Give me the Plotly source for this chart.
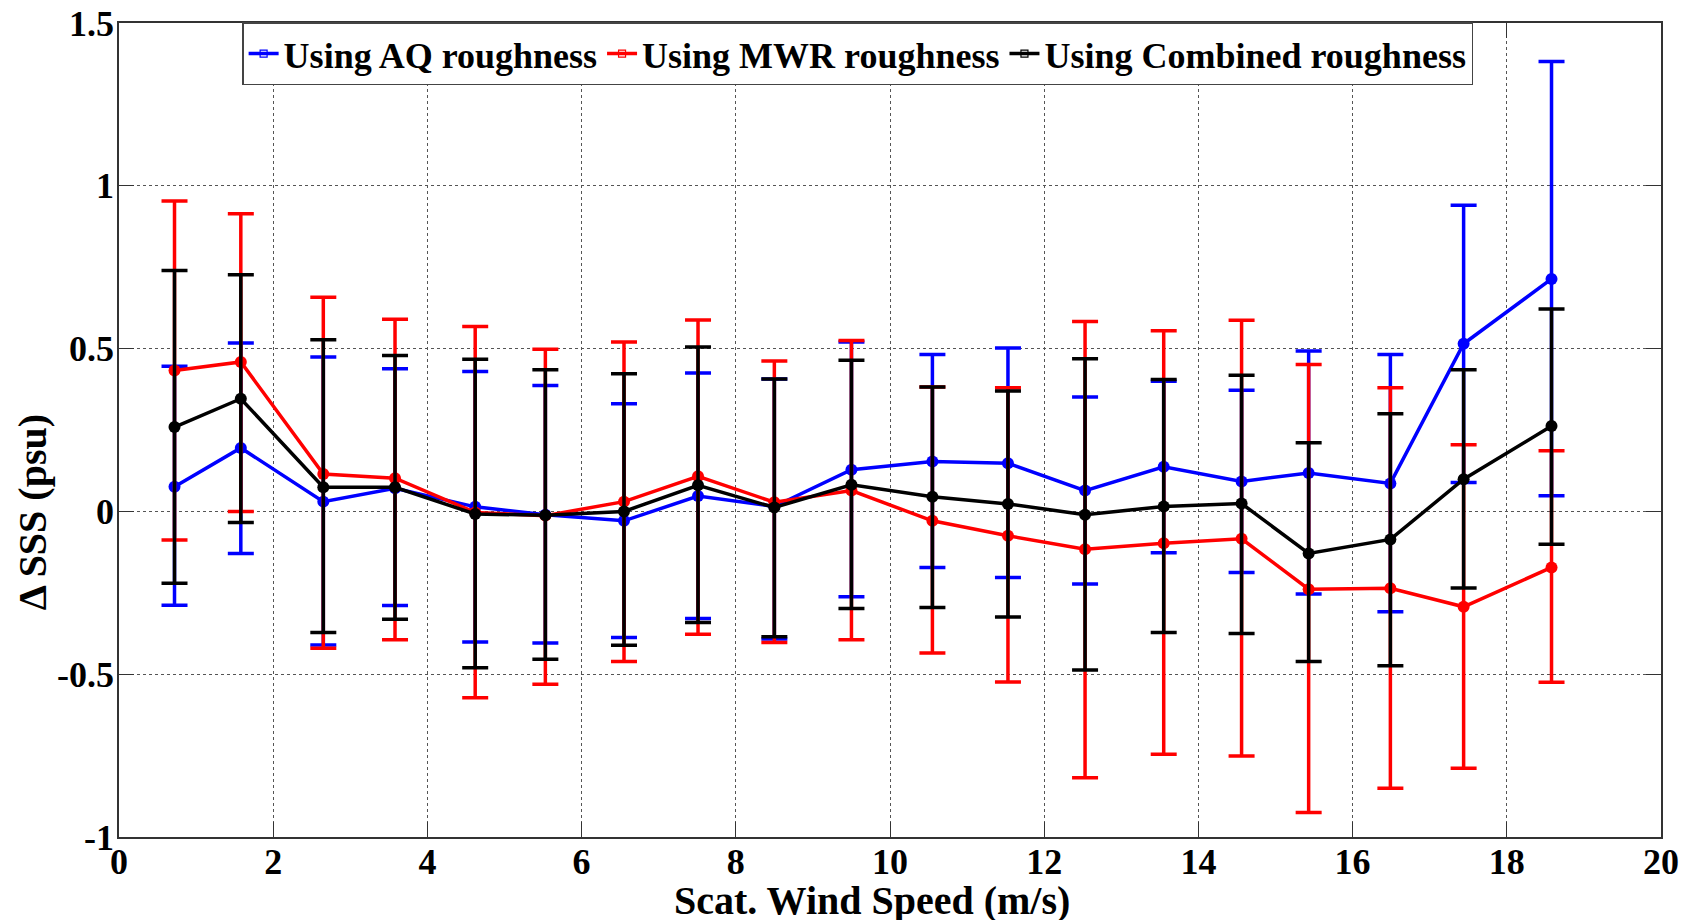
import plotly.graph_objects as go

# Wind speed bins (m/s)
wind_speed = [0.72, 1.58, 2.65, 3.58, 4.62, 5.53, 6.55, 7.51, 8.50, 9.50,
              10.55, 11.53, 12.53, 13.55, 14.56, 15.43, 16.49, 17.44, 18.58]

# Using AQ roughness
aq_mean = [0.076, 0.195, 0.030, 0.071, 0.014, -0.010, -0.029, 0.047, 0.015, 0.128,
           0.153, 0.148, 0.064, 0.137, 0.092, 0.118, 0.086, 0.515, 0.714]
aq_upper = [0.446, 0.517, 0.474, 0.438, 0.430, 0.387, 0.331, 0.425, 0.407, 0.520,
            0.482, 0.502, 0.351, 0.400, 0.372, 0.493, 0.482, 0.940, 1.382]
aq_lower = [-0.288, -0.129, -0.410, -0.289, -0.401, -0.404, -0.387, -0.329, -0.392, -0.262,
            -0.172, -0.203, -0.223, -0.127, -0.188, -0.254, -0.308, 0.089, 0.048]

# Using MWR roughness
mwr_mean = [0.433, 0.459, 0.115, 0.102, -0.003, -0.013, 0.030, 0.108, 0.028, 0.064,
            -0.029, -0.075, -0.116, -0.098, -0.084, -0.239, -0.236, -0.293, -0.172]
mwr_upper = [0.953, 0.914, 0.658, 0.590, 0.568, 0.498, 0.520, 0.588, 0.462, 0.525,
             0.382, 0.380, 0.583, 0.555, 0.587, 0.451, 0.380, 0.205, 0.186]
mwr_lower = [-0.088, 0.000, -0.420, -0.394, -0.572, -0.531, -0.461, -0.377, -0.403, -0.394,
             -0.435, -0.524, -0.818, -0.746, -0.751, -0.925, -0.850, -0.789, -0.525]

# Using Combined roughness
comb_mean = [0.259, 0.346, 0.074, 0.074, -0.008, -0.012, 0.000, 0.080, 0.012, 0.082,
             0.045, 0.023, -0.010, 0.015, 0.024, -0.129, -0.086, 0.099, 0.262]
comb_upper = [0.740, 0.727, 0.527, 0.479, 0.467, 0.435, 0.423, 0.505, 0.407, 0.464,
              0.382, 0.370, 0.469, 0.405, 0.418, 0.211, 0.300, 0.435, 0.622]
comb_lower = [-0.221, -0.034, -0.372, -0.331, -0.480, -0.454, -0.411, -0.341, -0.385, -0.298,
              -0.295, -0.324, -0.487, -0.372, -0.375, -0.461, -0.474, -0.235, -0.101]

series_names = ["Using AQ roughness", "Using MWR roughness", "Using Combined roughness"]
series_colors = ["#0000ff", "#ff0000", "#000000"]

x_tickvals = [0, 2, 4, 6, 8, 10, 12, 14, 16, 18, 20]
x_ticktext = ["0", "2", "4", "6", "8", "10", "12", "14", "16", "18", "20"]
y_tickvals = [-1, -0.5, 0, 0.5, 1, 1.5]
y_ticktext = ["-1", "-0.5", "0", "0.5", "1", "1.5"]

x_title = "Scat. Wind Speed (m/s)"
y_title = "Δ SSS (psu)"

FONT = "Liberation Serif, Times New Roman, serif"

fig = go.Figure()

series = [(aq_mean, aq_upper, aq_lower), (mwr_mean, mwr_upper, mwr_lower),
          (comb_mean, comb_upper, comb_lower)]

for (mean, up, lo), name, col in zip(series, series_names, series_colors):
    plus = [u - m for u, m in zip(up, mean)]
    minus = [m - l for m, l in zip(mean, lo)]
    fig.add_trace(go.Scatter(
        x=wind_speed, y=mean, mode="lines+markers", name=name,
        line=dict(color=col, width=3.5),
        marker=dict(color=col, size=12, symbol="circle"),
        error_y=dict(type="data", symmetric=False, array=plus, arrayminus=minus,
                     color=col, thickness=3.5, width=13),
        showlegend=False,
    ))

# legend entries (line with small open square)
for name, col in zip(series_names, series_colors):
    fig.add_trace(go.Scatter(
        x=[None], y=[None], mode="lines+markers", name=name,
        line=dict(color=col, width=3.5),
        marker=dict(color=col, size=7, symbol="square-open", line=dict(width=1.2, color=col)),
        showlegend=True,
    ))

axis_common = dict(
    showline=True, linecolor="#333333", linewidth=1.5, mirror="ticks",
    ticks="inside", ticklen=15, tickwidth=1.2, tickcolor="#333333",
    showgrid=True, gridcolor="#555555", gridwidth=1, griddash="dot",
    zeroline=False, ticklabeloverflow="allow",
    tickfont=dict(family=FONT, size=36, color="black", weight="bold"),
)

fig.update_xaxes(range=[0, 20], tickvals=x_tickvals, ticktext=x_ticktext,
                 ticklabelstandoff=-8, **axis_common)
fig.update_yaxes(range=[-1, 1.5], tickvals=y_tickvals, ticktext=y_ticktext,
                 ticklabelstandoff=-4, **axis_common)

title_font = dict(family=FONT, size=40, color="black", weight="bold")
fig.add_annotation(text=x_title, xref="paper", yref="paper", x=0.4883, y=-0.078,
                   xanchor="center", yanchor="middle", showarrow=False, font=title_font)
fig.add_annotation(text=y_title, xref="paper", yref="paper", x=-0.0564, y=0.399,
                   xanchor="center", yanchor="middle", showarrow=False, textangle=-90,
                   font=title_font)

fig.update_layout(
    width=1694, height=920,
    margin=dict(l=111, r=41, t=15, b=91, autoexpand=False),
    plot_bgcolor="white", paper_bgcolor="white",
    font=dict(family=FONT, color="black", weight="bold"),
    legend=dict(
        orientation="h", x=0.479, xanchor="center", y=1.001, yanchor="top",
        bgcolor="white", bordercolor="#444444", borderwidth=1.5,
        font=dict(family=FONT, size=36, color="black", weight="bold"),
        itemwidth=30, tracegroupgap=0,
    ),
)

fig.write_html("out.html")
